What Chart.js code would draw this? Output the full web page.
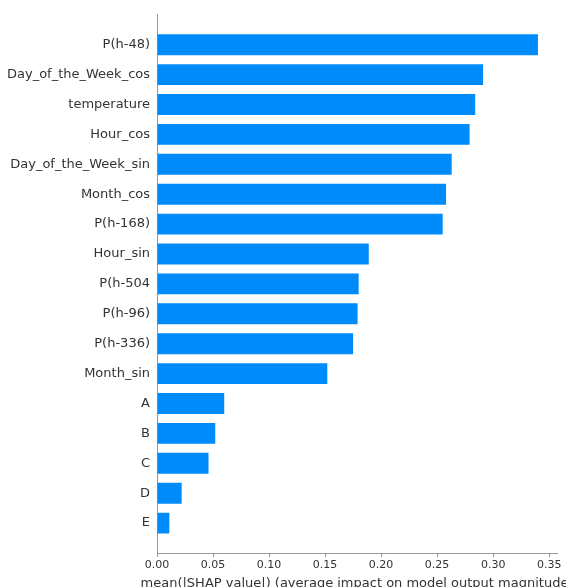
<!DOCTYPE html>
<html>
<head>
<meta charset="utf-8">
<script src="https://cdn.jsdelivr.net/npm/chart.js@4/dist/chart.umd.min.js"></script>
<style>
  html, body { margin: 0; padding: 0; background: #fff; }
  canvas { display: block; }
</style>
</head>
<body>
<canvas id="shapChart" width="566" height="587"></canvas>
<script>
// feature names, top to bottom
var featureNames = [
    "P(h-48)",
    "Day_of_the_Week_cos",
    "temperature",
    "Hour_cos",
    "Day_of_the_Week_sin",
    "Month_cos",
    "P(h-168)",
    "Hour_sin",
    "P(h-504",
    "P(h-96)",
    "P(h-336)",
    "Month_sin",
    "A",
    "B",
    "C",
    "D",
    "E"
];
// mean |SHAP| per feature
var meanShap = [0.340, 0.291, 0.284, 0.279, 0.263, 0.258, 0.255, 0.189, 0.180, 0.179, 0.175, 0.152, 0.060, 0.052, 0.046, 0.022, 0.011];
var xTicks = [0.00, 0.05, 0.10, 0.15, 0.20, 0.25, 0.30, 0.35];
var xLabel = "mean(|SHAP value|) (average impact on model output magnitude)";

var barColor = "#008bfb";
var axisColor = "#999999";
var textColor = "#333333";
var fontFamily = "'DejaVu Sans', sans-serif";

var points = featureNames.map(function (name, i) {
    return { x: meanShap[i], y: i };
});

// the built-in scale title squeezes long text to the axis width,
// so the x label is drawn by hand and allowed to run off the edge
var xLabelPlugin = {
    id: "xLabel",
    afterDraw: function (chart) {
        var ctx = chart.ctx;
        var area = chart.chartArea;
        ctx.save();
        ctx.font = "13px " + fontFamily;
        ctx.fillStyle = textColor;
        ctx.textAlign = "center";
        ctx.textBaseline = "alphabetic";
        ctx.fillText(xLabel, (area.left + area.right) / 2, chart.height - 0.5);
        ctx.restore();
    }
};

new Chart("shapChart", {
    type: "bar",
    data: {
        datasets: [{
            data: points,
            backgroundColor: barColor,
            borderWidth: 0,
            barPercentage: 0.7,
            categoryPercentage: 1.0
        }]
    },
    plugins: [xLabelPlugin],
    options: {
        indexAxis: "y",
        responsive: false,
        animation: false,
        devicePixelRatio: 1,
        layout: { padding: { top: 12, right: 9, left: 0, bottom: 0 } },
        plugins: {
            legend: { display: false },
            tooltip: { enabled: false }
        },
        scales: {
            y: {
                type: "linear",
                reverse: true,
                offset: false,
                min: -1,
                max: 17,
                afterBuildTicks: function (scale) {
                    scale.ticks = featureNames.map(function (n, i) { return { value: i }; });
                },
                afterFit: function (scale) { scale.width = 157; },
                grid: { display: false, drawTicks: false },
                border: { display: true, color: axisColor, width: 1 },
                ticks: {
                    autoSkip: false,
                    padding: 7,
                    color: textColor,
                    font: { family: fontFamily, size: 13 },
                    callback: function (value) { return featureNames[value]; }
                }
            },
            x: {
                type: "linear",
                min: 0,
                max: 0.357,
                afterBuildTicks: function (scale) {
                    scale.ticks = xTicks.map(function (v) { return { value: v }; });
                },
                afterFit: function (scale) { scale.height = 34; },
                grid: {
                    drawOnChartArea: false,
                    drawTicks: true,
                    tickLength: 4,
                    color: axisColor
                },
                border: { display: true, color: axisColor, width: 1 },
                ticks: {
                    autoSkip: false,
                    maxRotation: 0,
                    padding: 2,
                    color: textColor,
                    font: { family: fontFamily, size: 11 },
                    callback: function (value) { return value.toFixed(2); }
                }
            }
        }
    }
});
</script>
</body>
</html>
